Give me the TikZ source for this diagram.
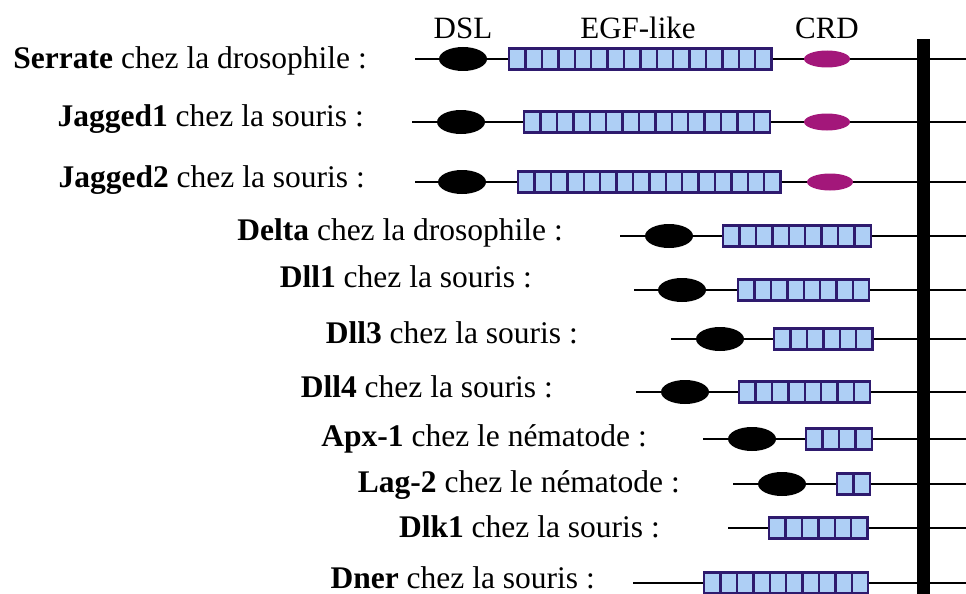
\documentclass[tikz,border=0pt]{standalone}
\usepackage{fontspec}
\setmainfont{Liberation Serif}
\usepackage{xcolor}
\usepackage{tikz}
\usetikzlibrary{positioning}
\usetikzlibrary{shapes.geometric}

\definecolor{egffill}{HTML}{AECFF5}
\definecolor{egfline}{HTML}{2E1A6E}
\definecolor{crdcol}{HTML}{A3177A}

\tikzset{
  ligne/.style={line width=2.5pt},
  dsl/.style={ellipse, fill=black, minimum width=48pt, minimum height=24pt, inner sep=0pt},
  crd/.style={ellipse, fill=crdcol, minimum width=46pt, minimum height=17pt, inner sep=0pt},
  egf/.style={rectangle, draw=egfline, line width=2.2pt, fill=egffill, inner sep=0pt,
    anchor=west, minimum height=21pt, minimum width=#1*16.4pt,
    path picture={\foreach \k in {1,...,#1}
      \draw[egfline, line width=2.4pt] ([xshift=\k*16.4pt]path picture bounding box.south west)
        -- ([xshift=\k*16.4pt]path picture bounding box.north west);}},
  nom/.style={anchor=base east, inner sep=0pt, font=\fontsize{31.5}{36}\selectfont},
  titre/.style={anchor=base, inner sep=0pt, font=\fontsize{31}{36}\selectfont}
}

\begin{document}
\begin{tikzpicture}[x=1pt,y=-1pt]
\useasboundingbox (0,0) rectangle (966,594);
\node[titre] (hdsl) at (463,38) {DSL};
\node[titre] (hegf) at (638,38) {EGF-like};
\node[titre] (hcrd) at (827,38) {CRD};
%%%%%%%%%%%%%%%%%%%%%%%%%%%%%%%%%%%%%
\coordinate (l1) at (415,59);
\node[dsl] (dsl1) at (463,59) {};
\node[egf=16] (egf1) at (508,59) {};
\node[crd] (crd1) at (827,59) {};
\coordinate (r1) at (966,59);
\node[nom] (lab1) at (367,68) {\textbf{Serrate} chez la drosophile :};
%%%%%%%%%%%%%%
\coordinate (l2) at (412,122);
\node[dsl] (dsl2) at (461,122) {};
\node[egf=15] (egf2) at (523,122) {};
\node[crd] (crd2) at (827,122) {};
\coordinate (r2) at (966,122);
\node[nom] (lab2) at (364,126) {\textbf{Jagged1} chez la souris :};
%%%%%%%%%%%%%%
\coordinate (l3) at (415,182);
\node[dsl] (dsl3) at (462,182) {};
\node[egf=16] (egf3) at (517,182) {};
\node[crd] (crd3) at (830,182) {};
\coordinate (r3) at (966,182);
\node[nom] (lab3) at (365,187) {\textbf{Jagged2} chez la souris :};
%%%%%%%%%%%%%%%%%%%%%%%%%%%%%%%%%%%%%
\coordinate (l4) at (620,236);
\node[dsl] (dsl4) at (669,236) {};
\node[egf=9] (egf4) at (722,236) {};
\coordinate (r4) at (966,236);
\node[nom] (lab4) at (563,240) {\textbf{Delta} chez la drosophile :};
%%%%%%%%%%%%%%
\coordinate (l5) at (634,290);
\node[dsl] (dsl5) at (682,290) {};
\node[egf=8] (egf5) at (737,290) {};
\coordinate (r5) at (966,290);
\node[nom] (lab5) at (532,287) {\textbf{Dll1} chez la souris :};
%%%%%%%%%%%%%%
\coordinate (l6) at (671,339);
\node[dsl] (dsl6) at (720,339) {};
\node[egf=6] (egf6) at (773,339) {};
\coordinate (r6) at (966,339);
\node[nom] (lab6) at (578,343) {\textbf{Dll3} chez la souris :};
%%%%%%%%%%%%%%
\coordinate (l7) at (636,392);
\node[dsl] (dsl7) at (685,392) {};
\node[egf=8] (egf7) at (738,392) {};
\coordinate (r7) at (966,392);
\node[nom] (lab7) at (553,397) {\textbf{Dll4} chez la souris :};
%%%%%%%%%%%%%%%%%%%%%%%%%%%%%%%%%%%%%
\coordinate (l8) at (703,439);
\node[dsl] (dsl8) at (752,439) {};
\node[egf=4] (egf8) at (805,439) {};
\coordinate (r8) at (966,439);
\node[nom] (lab8) at (647,446) {\textbf{Apx-1} chez le nématode :};
%%%%%%%%%%%%%%
\coordinate (l9) at (733,484);
\node[dsl] (dsl9) at (782,484) {};
\node[egf=2] (egf9) at (836,484) {};
\coordinate (r9) at (966,484);
\node[nom] (lab9) at (680,492) {\textbf{Lag-2} chez le nématode :};
%%%%%%%%%%%%%%
\coordinate (l10) at (728,528);
\node[egf=6] (egf10) at (768,528) {};
\coordinate (r10) at (966,528);
\node[nom] (lab10) at (660,537) {\textbf{Dlk1} chez la souris :};
%%%%%%%%%%%%%%
\coordinate (l11) at (633,583);
\node[egf=10] (egf11) at (703,583) {};
\coordinate (r11) at (966,583);
\node[nom] (lab11) at (595,588) {\textbf{Dner} chez la souris :};
%%%%%%%%%%%%%%%%%%%%%%%%%%%%%%%%%%%%%
\draw[ligne] (l1) -- (dsl1) -- (egf1) -- (crd1) -- (r1);
\draw[ligne] (l2) -- (dsl2) -- (egf2) -- (crd2) -- (r2);
\draw[ligne] (l3) -- (dsl3) -- (egf3) -- (crd3) -- (r3);
\draw[ligne] (l4) -- (dsl4) -- (egf4) -- (r4);
\draw[ligne] (l5) -- (dsl5) -- (egf5) -- (r5);
\draw[ligne] (l6) -- (dsl6) -- (egf6) -- (r6);
\draw[ligne] (l7) -- (dsl7) -- (egf7) -- (r7);
\draw[ligne] (l8) -- (dsl8) -- (egf8) -- (r8);
\draw[ligne] (l9) -- (dsl9) -- (egf9) -- (r9);
\draw[ligne] (l10) -- (egf10) -- (r10);
\draw[ligne] (l11) -- (egf11) -- (r11);
%%%%%%%%%%
\fill (917,39) rectangle (930,594);
\end{tikzpicture}
\end{document}
